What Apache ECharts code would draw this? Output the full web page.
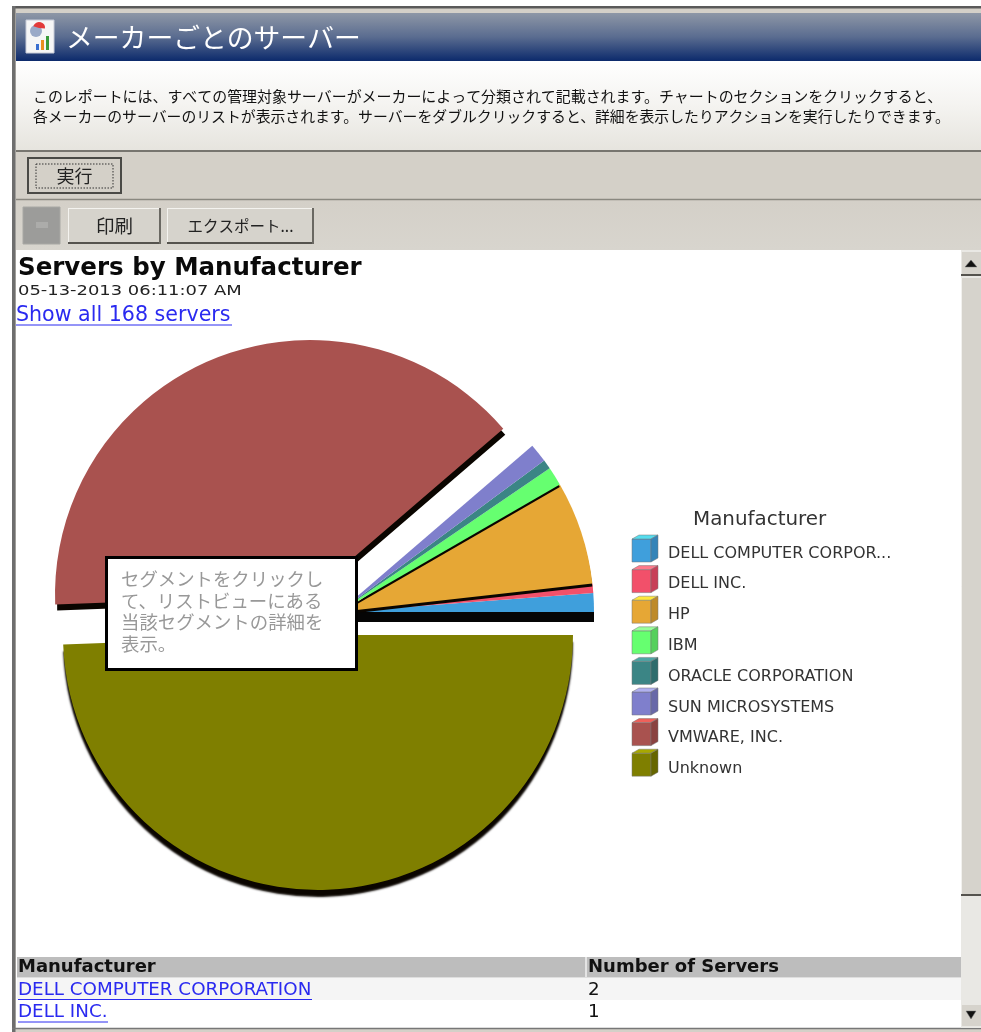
<!DOCTYPE html>
<html lang="ja">
<head>
<meta charset="utf-8">
<title>メーカーごとのサーバー</title>
<script src="https://cdn.jsdelivr.net/npm/echarts@6/dist/echarts.min.js"></script>
<style>
html,body{margin:0;padding:0;background:#fff;overflow:hidden}
#chart{width:981px;height:1032px}
</style>
</head>
<body>
<div id="chart"></div>
<script>
// Report values: servers per manufacturer
const manufacturers = ['DELL COMPUTER CORPORATION','DELL INC.','HP','IBM','ORACLE CORPORATION','SUN MICROSYSTEMS','VMWARE, INC.','Unknown'];
const serverCounts = [2,1,11,2,1,2,66,83];
const sliceColors = ['#3F9FDC','#F2506A','#E6A735','#66FF70','#3B8585','#7F7FCC','#A9524F','#7F7F00'];
const cubeTopColors = ['#55DDEE','#FF7A8C','#FFE83C','#99FF99','#4FA5A5','#B0B0F0','#F0605A','#A8A800'];
const cubeSideColors = ['#3584B8','#C84058','#BE8A2A','#55D05C','#2F6C6C','#6868A8','#8A4341','#666600'];
const legendLabels = ['DELL COMPUTER CORPOR...','DELL INC.','HP','IBM','ORACLE CORPORATION','SUN MICROSYSTEMS','VMWARE, INC.','Unknown'];
const tableHeaders = ['Manufacturer','Number of Servers'];
const tableRowCount = 2;
const reportTitle = 'Servers by Manufacturer';
const reportStamp = '05-13-2013 06:11:07 AM';
const showAllLink = 'Show all 168 servers';
const windowTitle = 'メーカーごとのサーバー';
const descriptionLines = [
  'このレポートには、すべての管理対象サーバーがメーカーによって分類されて記載されます。チャートのセクションをクリックすると、',
  '各メーカーのサーバーのリストが表示されます。サーバーをダブルクリックすると、詳細を表示したりアクションを実行したりできます。'
];
const calloutLines = ['セグメントをクリックし','て、リストビューにある','当該セグメントの詳細を','表示。'];

const JP = '"Noto Sans CJK JP", sans-serif';
const LATIN = '"DejaVu Sans", sans-serif';

const sum = (from, to) => serverCounts.slice(from, to).reduce((a, b) => a + b, 0);

// Exploded pie geometry
const pieRadius = 255;
const smallCenter = [339, 612];
const smallDepth = 10;

// A blank wedge keeps a group of slices at its true angle inside its own exploded pie
const spacer = value => ({
  value, name: ' ',
  itemStyle: { color: 'transparent', shadowColor: 'transparent', borderWidth: 0 },
  emphasis: { disabled: true }
});
// Drop depth of each slice's dark edge, in pixels
const sliceDepth = [0, 0, 3, 2.5, 0, 0, 6, 7];
const slice = i => ({
  value: serverCounts[i], name: manufacturers[i],
  itemStyle: {
    color: sliceColors[i],
    shadowColor: sliceDepth[i] ? '#0A0500' : 'transparent',
    shadowOffsetX: i === 6 ? 2 : 0,
    shadowOffsetY: sliceDepth[i],
    shadowBlur: i === 7 ? 2 : 0
  }
});
const pieSeries = (center, data) => ({
  type: 'pie', center, radius: pieRadius, startAngle: 0, clockwise: false,
  animation: false, silent: true, label: { show: false }, labelLine: { show: false },
  data
});

const rect = (x, y, w, h, fill, extra) => ({ type: 'rect', shape: { x, y, width: w, height: h }, style: Object.assign({ fill }, extra || {}), silent: true });
const gradV = (stops) => ({ type: 'linear', x: 0, y: 0, x2: 0, y2: 1, colorStops: stops.map((c, i) => ({ offset: i / (stops.length - 1), color: c })) });
const txt = (x, y, text, font, fill, extra, scaleX) => ({ type: 'text', x, y, scaleX: scaleX || 1, silent: true, z: 20, style: Object.assign({ text, font, fill, textVerticalAlign: 'middle' }, extra || {}) });
const line = (x1, y1, x2, y2, stroke, lineWidth, extra) => ({ type: 'line', shape: { x1, y1, x2, y2 }, silent: true, z: 20, style: Object.assign({ stroke, lineWidth: lineWidth || 1 }, extra || {}) });
const poly = (points, fill) => ({ type: 'polygon', shape: { points }, silent: true, z: 20, style: { fill, stroke: '#777', lineWidth: 0.5 } });

// Raised toolbar button: light upper-left edge, dark lower-right edge
function button(x, y, w, h, label, font) {
  return [
    rect(x, y, w, h, '#D6D3CC'),
    line(x, y + .5, x + w, y + .5, '#F4F3EF', 1),
    line(x + .5, y, x + .5, y + h, '#F4F3EF', 1),
    line(x, y + h - 1, x + w, y + h - 1, '#55534E', 2),
    line(x + w - 1, y, x + w - 1, y + h, '#6A6862', 2),
    txt(x + w / 2, y + h / 2, label, font, '#222', { textAlign: 'center' })
  ];
}

const chrome = [
  // window frame and content background
  rect(12, 6, 969, 1026, '#D4D0C8'),
  rect(12, 6, 969, 2.5, '#5A5A5A'),
  rect(12, 6, 3.5, 1026, '#6E6E6E'),
  rect(16, 13, 965, 48, gradV(['#8E97A6', '#5A6C90', '#0C2A6C'])),
  rect(16, 61, 965, 90, gradV(['#FFFFFF', '#F4F3F0', '#E6E4DE'])),
  line(16, 151, 981, 151, '#77756F', 2),
  rect(16, 152, 965, 47, '#D4D0C8'),
  line(16, 199.5, 981, 199.5, '#8A8880', 1.5),
  rect(16, 201, 965, 49, gradV(['#D4D0C8', '#D8D5CE'])),
  rect(16, 250, 945, 778, '#FFFFFF'),
  line(12, 1028.5, 981, 1028.5, '#777', 1.5),
  // black underside of the horizontal edge of the small-vendor wedge
  rect(smallCenter[0], smallCenter[1], pieRadius, smallDepth, '#050505'),

  // report icon in the title bar
  rect(26, 20, 28, 33, '#F6F6F6', { stroke: '#C8CCD8', lineWidth: 1 }),
  { type: 'circle', shape: { cx: 36, cy: 31, r: 6 }, style: { fill: '#9AAAC8' }, silent: true },
  { type: 'sector', shape: { cx: 39, cy: 28, r0: 0, r: 6, startAngle: -Math.PI * .9, endAngle: 0.1 }, style: { fill: '#E23A3A' }, silent: true },
  rect(36, 44, 3, 6, '#3A6FD0'), rect(41, 40, 3, 10, '#E89020'), rect(46, 36, 3, 14, '#3A9A3A'),

  txt(66, 38, windowTitle, '26.8px ' + JP, '#FFFFFF'),
  txt(33, 96.5, descriptionLines[0], '14.95px ' + JP, '#111'),
  txt(33, 116.5, descriptionLines[1], '14.85px ' + JP, '#111'),

  // run / back / print / export buttons
  rect(28, 158, 93, 35, '#D4D0C8', { stroke: '#4A4A46', lineWidth: 2 }),
  rect(36, 164, 77, 24, 'none', { stroke: '#333', lineWidth: 1, lineDash: [1.5, 1.5] }),
  txt(74.5, 176, '実行', '18px ' + JP, '#222', { textAlign: 'center' }),
  rect(23, 207, 37, 37, '#9C9C9A', { stroke: '#A8A8A4', lineWidth: 1 }),
  rect(36, 222, 12, 6, '#ACACAA'),
  ...button(68, 208, 93, 36, '印刷', '18.5px ' + JP),
  ...button(167, 208, 147, 36, 'エクスポート...', '15.5px ' + JP),

  // report header: stamp and link
  txt(18, 291, reportStamp, '14px ' + LATIN, '#222', null, 1.28),
  txt(16, 315.5, showAllLink, '20.6px ' + LATIN, '#2A2AF0'),
  line(16, 325, 232, 325, '#2A2AF0', 1),

  // scrollbar
  rect(961, 250, 20, 778, '#E9E8E4'),
  rect(962, 278, 19, 617, '#D6D3CC'),
  line(961.5, 278, 961.5, 895, '#F2F1EE', 1),
  line(961, 895, 981, 895, '#55534E', 2),
  rect(962, 252, 19, 22, '#D6D3CC'),
  line(961, 275, 981, 275, '#55534E', 2),
  poly([[965, 267], [977, 267], [971, 260]], '#111'),
  rect(962, 1005, 19, 21, '#D6D3CC'),
  poly([[966, 1011], [976, 1011], [971, 1019]], '#111'),

  // server table
  rect(17, 957, 944, 20.5, '#BDBDBD'),
  line(586, 957, 586, 977, '#F2F2F2', 1.5),
  rect(17, 978, 944, 22, '#F5F5F5'),
  txt(18, 967.5, tableHeaders[0], 'bold 18px ' + LATIN, '#111'),
  txt(588, 967.5, tableHeaders[1], 'bold 18px ' + LATIN, '#111')
];

// Rows follow the legend order, values come straight from serverCounts
for (let i = 0; i < tableRowCount; i++) {
  const y = 990 + i * 22.5;
  const width = i === 0 ? 294 : 90;
  chrome.push(txt(18, y, manufacturers[i], '18.3px ' + LATIN, '#2A2AF0'));
  chrome.push(line(18, y + 9.5, 18 + width, y + 9.5, '#2A2AF0', 1));
  chrome.push(txt(588, y, String(serverCounts[i]), '18.3px ' + LATIN, '#111'));
}

// Cube swatches beside the legend text: front, top and side faces
const legendX = 632, legendY = 539, cubeStep = 30.6, cubeW = 19, cubeH = 23, cubeDepth = 7, cubeRise = 4;
manufacturers.forEach((_, i) => {
  const y = legendY + i * cubeStep;
  chrome.push(poly([[legendX, y], [legendX + cubeW, y], [legendX + cubeW, y + cubeH], [legendX, y + cubeH]], sliceColors[i]));
  chrome.push(poly([[legendX, y], [legendX + cubeW, y], [legendX + cubeW + cubeDepth, y - cubeRise], [legendX + cubeDepth, y - cubeRise]], cubeTopColors[i]));
  chrome.push(poly([[legendX + cubeW, y], [legendX + cubeW + cubeDepth, y - cubeRise], [legendX + cubeW + cubeDepth, y + cubeH - cubeRise], [legendX + cubeW, y + cubeH]], cubeSideColors[i]));
});

// Help callout over the pie
chrome.push(Object.assign(rect(106.5, 557.5, 250, 112, '#FFFFFF', { stroke: '#000', lineWidth: 3 }), { z: 30 }));
calloutLines.forEach((text, i) => {
  chrome.push(Object.assign(txt(121, 579 + i * 21.7, text, '18.4px ' + JP, '#989898'), { z: 31 }));
});

const chart = echarts.init(document.getElementById('chart'));
chart.setOption({
  animation: false,
  backgroundColor: '#FFFFFF',
  title: [
    {
      text: reportTitle, left: 15, top: 253, padding: [3, 3], z: 25,
      textStyle: { fontFamily: LATIN, fontWeight: 'bold', fontSize: 24.5, color: '#0A0A0A' }
    },
    {
      text: 'Manufacturer', left: 693, top: 510, padding: 0, z: 25,
      textStyle: { fontFamily: LATIN, fontWeight: 'normal', fontSize: 19.9, color: '#333' }
    }
  ],
  legend: {
    orient: 'vertical', left: legendX, top: legendY + 3, padding: 0,
    itemWidth: cubeW, itemHeight: cubeH, itemGap: 11.3, icon: 'none',
    selectedMode: false, z: 10,
    data: manufacturers,
    formatter: name => legendLabels[manufacturers.indexOf(name)],
    textStyle: { fontFamily: LATIN, fontSize: 16, color: '#333', padding: [0, 0, 0, 12] }
  },
  series: [
    // Small vendors share one exploded wedge to the right
    pieSeries(smallCenter, [0, 1, 2, 3, 4, 5].map(slice).concat(spacer(sum(6, 8)))),
    // VMware moved up and to the left
    pieSeries([310, 595], [spacer(sum(0, 6)), slice(6), spacer(sum(7, 8))]),
    // Unknown moved down
    pieSeries([318, 635], [spacer(sum(0, 7)), slice(7)])
  ],
  graphic: { elements: chrome.map((el, i) => Object.assign({ z: el.z !== undefined ? el.z : (i < 12 ? -1 : 20) }, el)) }
});
</script>
</body>
</html>
